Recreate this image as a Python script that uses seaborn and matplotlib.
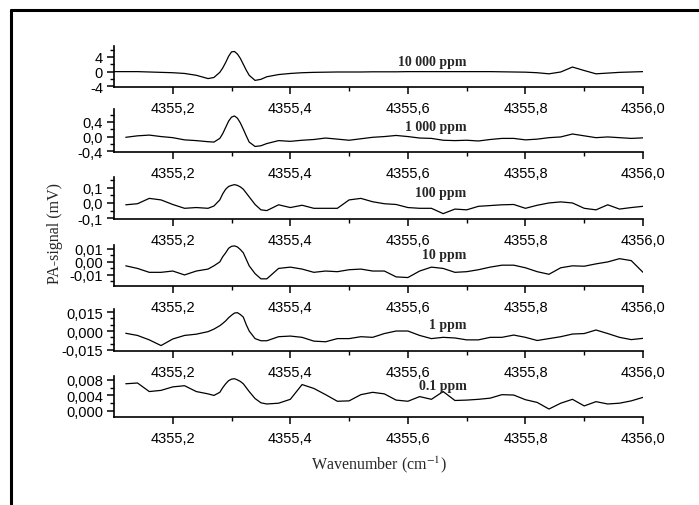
import numpy as np
import seaborn as sns
import matplotlib.pyplot as plt
from matplotlib.lines import Line2D

# ----------------------------
# DATA
# ----------------------------
wavenumber = [4355.10, 4355.12, 4355.14, 4355.16, 4355.18, 4355.20, 4355.22, 4355.24, 4355.26,
              4355.27, 4355.28, 4355.285, 4355.29, 4355.295, 4355.30, 4355.305, 4355.31, 4355.315,
              4355.32, 4355.325, 4355.33, 4355.34, 4355.35, 4355.36,
              4355.38, 4355.40, 4355.42, 4355.44, 4355.46, 4355.48, 4355.50, 4355.52, 4355.54, 4355.56,
              4355.58, 4355.60, 4355.62, 4355.64, 4355.66, 4355.68, 4355.70, 4355.72, 4355.74, 4355.76,
              4355.78, 4355.80, 4355.82, 4355.84, 4355.86, 4355.88, 4355.90, 4355.92, 4355.94, 4355.96,
              4355.98, 4356.00]

nan = np.nan

sig_10000 = [0, 0, 0, -0.1, -0.2, -0.3, -0.5, -1.0, -1.9,
             -1.6, -0.2, 1.0, 2.5, 4.2, 5.4, 5.5, 4.8, 3.6,
             2.0, 0.4, -1.0, -2.4, -2.1, -1.4,
             -0.8, -0.5, -0.3, -0.2, -0.15, -0.1, -0.1, -0.1, -0.05, -0.05,
             -0.05, 0, 0, 0, 0, 0, 0, 0, 0, -0.05,
             -0.1, -0.15, -0.3, -0.6, -0.1, 1.25, 0.3, -0.6, -0.4, -0.2,
             -0.1, 0]

sig_1000 = [nan, -0.02, 0.02, 0.04, 0.0, -0.03, -0.09, -0.11, -0.14,
            -0.15, -0.05, 0.08, 0.25, 0.42, 0.53, 0.56, 0.50, 0.37,
            0.2, 0.02, -0.15, -0.27, -0.25, -0.19,
            -0.11, -0.13, -0.10, -0.08, -0.04, -0.07, -0.10, -0.06, -0.02, 0.0,
            0.03, 0.0, -0.04, -0.05, -0.10, -0.11, -0.10, -0.12, -0.08, -0.05,
            -0.05, -0.09, -0.07, -0.03, -0.01, 0.07, 0.02, -0.03, -0.01, -0.03,
            -0.05, -0.035]

sig_100 = [nan, -0.012, -0.005, 0.03, 0.02, -0.01, -0.035, -0.03, -0.035,
           -0.02, 0.02, 0.06, 0.09, 0.108, 0.115, 0.12, 0.115, 0.105,
           0.09, 0.065, 0.04, -0.01, -0.045, -0.05,
           -0.012, -0.03, -0.015, -0.035, -0.035, -0.035, 0.02, 0.03, 0.008, -0.005,
           -0.01, -0.03, -0.035, -0.035, -0.07, -0.04, -0.045, -0.022, -0.017, -0.012,
           -0.01, -0.035, -0.015, 0.0, 0.007, 0.0, -0.035, -0.045, -0.012, -0.04,
           -0.03, -0.022]

sig_10 = [nan, -0.003, -0.005, -0.008, -0.008, -0.007, -0.01, -0.007, -0.0055,
          -0.003, 0.0, 0.004, 0.007, 0.0105, 0.012, 0.0123, 0.0115, 0.0095,
          0.007, 0.002, -0.003, -0.009, -0.013, -0.013,
          -0.005, -0.004, -0.0055, -0.008, -0.007, -0.0075, -0.006, -0.0055, -0.007, -0.007,
          -0.0115, -0.012, -0.007, -0.004, -0.005, -0.008, -0.0075, -0.006, -0.004, -0.0025,
          -0.0025, -0.0045, -0.0075, -0.0095, -0.0045, -0.003, -0.0033, -0.0015, 0.0, 0.0025,
          0.001, -0.008]

sig_1 = [nan, -0.0018, -0.0035, -0.007, -0.0115, -0.0063, -0.0035, -0.0025, -0.0005,
         0.0015, 0.0042, 0.006, 0.008, 0.0105, 0.0125, 0.0142, 0.0145, 0.013,
         0.011, 0.005, 0.0, -0.006, -0.0077, -0.0077,
         -0.0045, -0.004, -0.005, -0.008, -0.0085, -0.006, -0.006, -0.0045, -0.005, -0.002,
         0.0, 0.0, -0.0035, -0.006, -0.005, -0.0055, -0.007, -0.007, -0.005, -0.005,
         -0.0032, -0.005, -0.0075, -0.006, -0.0045, -0.0024, -0.002, 0.0008, -0.002, -0.005,
         -0.0068, -0.0058]

sig_01 = [nan, 0.007, 0.0072, 0.005, 0.0053, 0.0062, 0.0065, 0.005, 0.0044,
          0.004, 0.0048, 0.006, 0.007, 0.0078, 0.0082, 0.0083, 0.008, 0.0076,
          0.007, 0.006, 0.005, 0.0032, 0.0021, 0.0018,
          0.002, 0.003, 0.0068, 0.0058, 0.0042, 0.0025, 0.0026, 0.0042, 0.0048, 0.0044,
          0.0028, 0.0025, 0.0037, 0.003, 0.005, 0.0027, 0.0028, 0.003, 0.0033, 0.0042,
          0.0041, 0.0029, 0.0022, 0.0005, 0.002, 0.003, 0.0013, 0.0024, 0.0018, 0.002,
          0.0026, 0.0035]

labels = ["10 000 ppm", "1 000 ppm", "100 ppm", "10 ppm", "1 ppm", "0.1 ppm"]
signals = [sig_10000, sig_1000, sig_100, sig_10, sig_1, sig_01]

ytick_vals = [[-4, 0, 4], [-0.4, 0.0, 0.4], [-0.1, 0.0, 0.1],
              [-0.01, 0.0, 0.01], [-0.015, 0.0, 0.015], [0.0, 0.004, 0.008]]
ytick_text = [["-4", "0", "4"], ["-0,4", "0,0", "0,4"], ["-0,1", "0,0", "0,1"],
              ["-0,01", "0,00", "0,01"], ["-0,015", "0,000", "0,015"], ["0,000", "0,004", "0,008"]]
yminor_step = [2, 0.2, 0.05, 0.005, 0.005, 0.002]

xtick_vals = [4355.2, 4355.4, 4355.6, 4355.8, 4356.0]
xtick_text = ["4355,2", "4355,4", "4355,6", "4355,8", "4356,0"]
xminor_vals = [4355.3, 4355.5, 4355.7, 4355.9]

# ----------------------------
# LAYOUT
# ----------------------------
ylims = [(-4.2, 7.0), (-0.42, 0.75), (-0.105, 0.17), (-0.0185, 0.013), (-0.0158, 0.0174), (-0.00155, 0.009)]
# (top_px, bottom_px) of each panel in the 699x506 canvas
panel_px = [(47, 88), (110, 153), (178, 220), (246, 287), (310, 352), (377, 418)]
label_frac = [0.63, 0.60, 0.64, 0.76, 0.64, 0.78]

W, H = 699, 506
sns.set_style("ticks")
plt.rcParams["font.family"] = ["Liberation Sans", "DejaVu Sans"]
plt.rcParams["mathtext.fontset"] = "stix"

fig = plt.figure(figsize=(W / 100, H / 100), dpi=100)

left = 114 / W
width = (643 - 114) / W

for i, (sig, lab) in enumerate(zip(signals, labels)):
    top_px, bot_px = panel_px[i]
    ax = fig.add_axes([left, 1 - bot_px / H, width, (bot_px - top_px) / H])
    ax.patch.set_visible(False)
    sns.lineplot(x=wavenumber, y=sig, ax=ax, color="black", linewidth=0.9)
    ax.set_xlim(4355.1, 4356.0)
    ax.set_ylim(*ylims[i])
    sns.despine(ax=ax)
    for s in ["left", "bottom"]:
        ax.spines[s].set_linewidth(1.2)
        ax.spines[s].set_color("black")

    ax.set_xticks(xtick_vals, xtick_text)
    ax.set_xticks(xminor_vals, minor=True)
    ax.set_yticks(ytick_vals[i], ytick_text[i])
    lo, hi = ylims[i]
    st = yminor_step[i]
    mn = np.arange(np.ceil(lo / st) * st, hi + 1e-12, st)
    ax.set_yticks(mn, minor=True)

    ax.tick_params(axis="both", which="major", length=5, width=1.1, color="black",
                   labelsize=10.5, labelcolor="black")
    ax.tick_params(axis="both", which="minor", length=3, width=1.0, color="black")
    ax.tick_params(axis="x", which="major", pad=5)
    ax.tick_params(axis="y", which="major", pad=3)

    ax.text(4355.70, label_frac[i], lab, transform=ax.get_xaxis_transform(),
            ha="right", va="center", fontsize=10, fontweight="bold",
            family="Liberation Serif")
    ax.set_xlabel("")
    ax.set_ylabel("")

fig.text(55 / W, 1 - 233 / H, "PA-signal (mV)", rotation=90, ha="center", va="center",
         fontsize=11.5, family="Liberation Serif")
fig.text(378.5 / W, 1 - 465 / H, "Wavenumber (cm$^{-1}$)", ha="center", va="center",
         fontsize=11.5, family="Liberation Serif")

# outer frame (only left and top edges are visible in the reference)
fig.add_artist(Line2D([10.5 / W, 10.5 / W], [0, 1 - 11 / H], color="black", linewidth=2.2,
                      transform=fig.transFigure))
fig.add_artist(Line2D([10.5 / W, 1], [1 - 11 / H, 1 - 11 / H], color="black", linewidth=2.2,
                      transform=fig.transFigure))

fig.savefig("out.png", dpi=100)
